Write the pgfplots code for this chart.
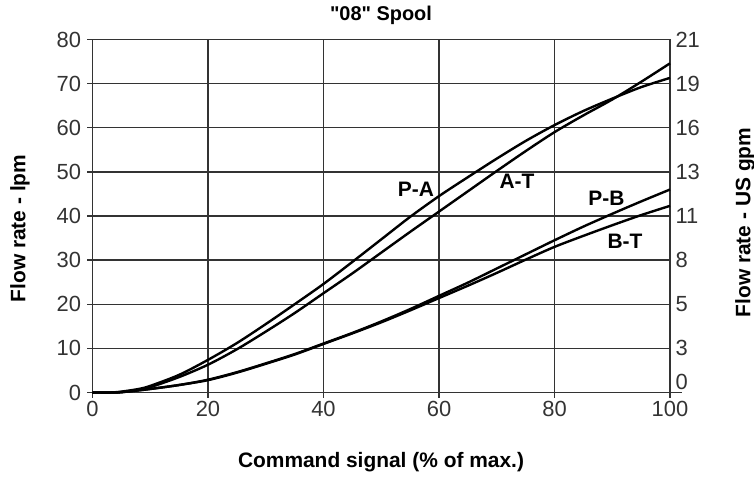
\documentclass[border=0pt]{standalone}
\usepackage{pgfplots}
\pgfplotsset{compat=1.18}
\usepackage{fontspec}
\setmainfont{Liberation Sans}
\newfontfamily\plainsans{Liberation Sans}
\definecolor{gridc}{HTML}{333333}
\pgfplotsset{curve/.style={black, line width=2.4bp, smooth, tension=0.5, mark=none}}
\begin{document}
\begin{tikzpicture}
\path[use as bounding box] (-92.5bp,-88.5bp) rectangle (661.5bp,392.5bp);
\begin{axis}[
  scale only axis, width=577.5bp, height=353bp,
  xmin=0, xmax=100, ymin=0, ymax=80,
  xtick={0,20,...,100}, ytick={0,10,...,80},
  grid=major, grid style={gridc, line width=1.4bp},
  axis line style={gridc, line width=1.4bp},
  every tick/.style={gridc, line width=1.4bp},
  tick align=outside, xtick pos=bottom, ytick pos=left,
  major tick length=5bp,
  ticklabel style={font=\fontsize{22}{22}\selectfont, text=gridc},
  yticklabel style={xshift=-3bp},
  /pgf/number format/assume math mode=true,
  clip=false,
]
% P-A
\addplot[curve] coordinates {(0,0) (3,0) (5,0.2) (8,0.8) (10,1.5) (15,4) (20,7.4) (25,11.2) (30,15.5) (35,20) (40,24.6) (45,29.6) (50,34.7) (55,39.8) (60,44.5) (65,48.8) (70,53) (75,57) (80,60.6) (85,63.8) (90,66.6) (95,69.2) (100,71.3)};
% A-T
\addplot[curve] coordinates {(0,0) (3,0) (5,0.1) (8,0.6) (10,1.2) (15,3.5) (20,6.3) (25,9.8) (30,13.8) (35,18) (40,22.5) (45,27) (50,31.7) (55,36.4) (60,41) (65,45.6) (70,50.2) (75,54.7) (80,59) (85,62.8) (90,66.4) (95,70.4) (100,74.6)};
% P-B
\addplot[curve] coordinates {(0,0) (4,0) (6,0.2) (10,0.8) (15,1.7) (20,2.9) (25,4.6) (30,6.6) (35,8.7) (40,11.1) (45,13.5) (50,16.1) (55,18.9) (60,21.9) (65,24.9) (70,28.1) (75,31.3) (80,34.5) (85,37.6) (90,40.5) (95,43.3) (100,46)};
% B-T
\addplot[curve] coordinates {(0,0) (4,0) (6,0.2) (10,0.8) (15,1.7) (20,2.8) (25,4.5) (30,6.5) (35,8.6) (40,11) (45,13.4) (50,15.9) (55,18.6) (60,21.4) (65,24.2) (70,27.1) (75,30.1) (80,33) (85,35.5) (90,37.9) (95,40.2) (100,42.3)};
\draw[gridc, line width=1.4bp] (axis cs:100,0) -- ++(11.7bp,0);
\begin{scope}[font=\bfseries\fontsize{21}{21}\selectfont]
\node at (axis cs:56,46) {P-A};
\node at (axis cs:73.5,47.8) {A-T};
\node at (axis cs:89,44) {P-B};
\node at (axis cs:92.2,34.2) {B-T};
\end{scope}
\end{axis}
\begin{axis}[
  scale only axis, width=577.5bp, height=353bp,
  xmin=0, xmax=100, ymin=0, ymax=80,
  axis x line=none, axis y line*=right,
  axis line style={draw=none},
  ytick={2.5,10,20,...,80},
  yticklabels={0,3,5,8,11,13,16,19,21},
  major tick length=0pt,
  yticklabel style={font=\fontsize{22}{22}\selectfont, text=gridc, anchor=west, xshift=2bp},
]
\end{axis}
\node[font=\plainsans\bfseries\fontsize{20}{20}\selectfont] at (288.5bp,377.5bp) {"08" Spool};
\node[font=\bfseries\fontsize{21}{21}\selectfont] at (288.5bp,-70bp) {Command signal (\% of max.)};
\node[font=\bfseries\fontsize{21}{21}\selectfont, rotate=90] at (-72.5bp,164bp) {Flow rate - lpm};
\node[font=\bfseries\fontsize{21}{21}\selectfont, rotate=90] at (652.5bp,170bp) {Flow rate - US gpm};
\end{tikzpicture}
\end{document}
